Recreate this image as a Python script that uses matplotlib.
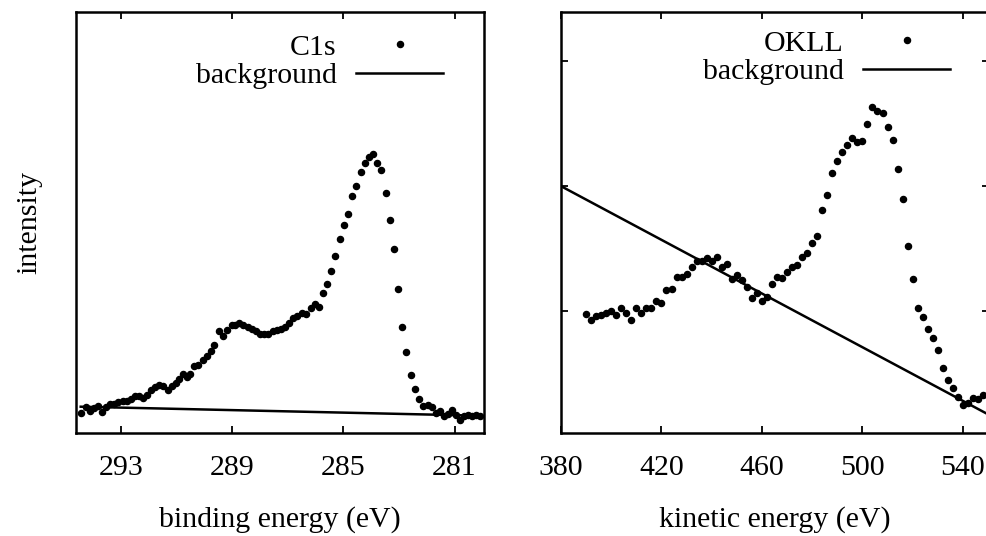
import matplotlib
matplotlib.use("Agg")
import matplotlib.pyplot as plt

# ---------------- data: C1s (binding energy, eV) ----------------
c1s_energy = [294.45, 294.26, 294.12, 293.96, 293.82, 293.68, 293.54, 293.40, 293.25, 293.10,
              292.94, 292.80, 292.65, 292.50, 292.35, 292.22, 292.08, 291.93, 291.78, 291.63,
              291.48, 291.32, 291.18, 291.03, 290.90, 290.76, 290.64, 290.52, 290.37, 290.22,
              290.06, 289.92, 289.77, 289.64, 289.46, 289.34, 289.18, 289.02, 288.90, 288.74,
              288.60, 288.44, 288.30, 288.14, 288.00, 287.84, 287.70, 287.54, 287.40, 287.26,
              287.10, 286.94, 286.80, 286.66, 286.50, 286.35, 286.18, 286.02, 285.88, 285.72,
              285.58, 285.43, 285.29, 285.13, 284.98, 284.82, 284.68, 284.53, 284.38, 284.23,
              284.08, 283.94, 283.78, 283.64, 283.48, 283.34, 283.18, 283.04, 282.88, 282.74,
              282.58, 282.44, 282.29, 282.12, 281.97, 281.82, 281.68, 281.52, 281.38, 281.25,
              281.09, 280.95, 280.81, 280.66, 280.52, 280.36, 280.23, 280.09]
c1s_intensity = [6.0, 7.8, 6.5, 7.5, 8.0, 6.2, 7.8, 8.7, 8.7, 9.2,
                 9.5, 9.5, 10.2, 11.2, 11.0, 10.5, 11.5, 13.0, 13.8, 14.5,
                 14.2, 13.0, 14.0, 15.0, 16.2, 17.8, 16.8, 17.8, 20.2, 20.5,
                 22.0, 23.2, 24.5, 26.5, 30.5, 29.0, 31.0, 32.5, 32.5, 33.2,
                 32.5, 31.8, 31.2, 30.7, 29.7, 29.8, 29.7, 30.5, 30.8, 31.2,
                 32.0, 33.2, 34.7, 35.2, 36.2, 35.7, 37.5, 38.8, 38.0, 42.2,
                 44.7, 48.8, 53.1, 58.2, 62.5, 65.9, 71.2, 74.3, 78.3, 81.2,
                 83.0, 83.9, 81.0, 79.0, 72.0, 64.0, 55.4, 43.2, 31.9, 24.3,
                 17.5, 13.2, 10.2, 8.0, 8.3, 7.7, 6.0, 6.5, 5.0, 5.7,
                 6.8, 5.5, 3.8, 5.0, 5.3, 5.0, 5.5, 5.0]
c1s_bg_energy = [294.45, 280.09]
c1s_bg_intensity = [7.9, 5.2]
c1s_ticks = [293, 289, 285, 281]

# ---------------- data: OKLL (kinetic energy, eV) ----------------
okll_energy = [390, 392, 394, 396, 398, 400, 402, 404, 406, 408,
               410, 412, 414, 416, 418, 420, 422, 424, 426, 428,
               430, 432, 434, 436, 438, 440, 442, 444, 446, 448,
               450, 452, 454, 456, 458, 460, 462, 464, 466, 468,
               470, 472, 474, 476, 478, 480, 482, 484, 486, 488,
               490, 492, 494, 496, 498, 500, 502, 504, 506, 508,
               510, 512, 514, 516, 518, 520, 522, 524, 526, 528,
               530, 532, 534, 536, 538, 540, 542, 544, 546, 548]
okll_intensity = [9.74, 9.28, 9.55, 9.66, 9.81, 10.00, 9.68, 10.21, 9.81, 9.26,
                  10.19, 9.81, 10.26, 10.26, 10.79, 10.66, 11.67, 11.77, 12.73, 12.73,
                  12.99, 13.50, 13.97, 13.97, 14.24, 14.03, 14.29, 13.52, 13.79, 12.52,
                  12.86, 12.44, 11.93, 11.01, 11.46, 10.79, 11.11, 12.12, 12.73, 12.65,
                  13.13, 13.50, 13.71, 14.29, 14.64, 15.43, 16.04, 18.08, 19.32, 21.07,
                  22.00, 22.72, 23.32, 23.83, 23.51, 23.59, 25.02, 26.37, 26.03, 25.89,
                  24.78, 23.72, 21.39, 19.01, 15.17, 12.52, 10.21, 9.52, 8.54, 7.83,
                  6.87, 5.44, 4.49, 3.77, 3.06, 2.45, 2.58, 2.98, 2.93, 3.25]
okll_bg_energy = [380, 550]
okll_bg_intensity = [20.0, 1.7]
okll_xticks = [380, 420, 460, 500, 540]
okll_yticks = [10, 20, 30]

# ---------------- style ----------------
plt.rcParams['font.family'] = ['Liberation Serif', 'DejaVu Serif']
FS = 21.5
W, H = 986, 536
fig = plt.figure(figsize=(W / 100, H / 100), dpi=100)

def px_axes(x0, x1, y0, y1):
    return fig.add_axes([x0 / W, 1 - y1 / H, (x1 - x0) / W, (y1 - y0) / H])

ax1 = px_axes(76, 484, 12, 433)
ax2 = px_axes(561, 989, 12, 433)

for ax in (ax1, ax2):
    for s in ax.spines.values():
        s.set_linewidth(1.8)
    ax.tick_params(direction='in', length=5, width=1.3, labelsize=FS, pad=16,
                   top=True, right=True)

# left panel
ax1.plot(c1s_energy, c1s_intensity, linestyle='none', marker='o', markersize=4.4,
         color='black', label='C1s')
ax1.plot(c1s_bg_energy, c1s_bg_intensity, color='black', linewidth=1.8, label='background')
ax1.set_xlim(294.62, 279.94)
ax1.set_ylim(0, 126.5)
ax1.set_xticks(c1s_ticks)
ax1.set_xticklabels([str(t) for t in c1s_ticks])
ax1.set_yticks([])
ax1.set_xlabel('binding energy (eV)', fontsize=FS, labelpad=18)
ax1.set_ylabel('intensity', fontsize=FS, labelpad=24)

# right panel
ax2.plot(okll_energy, okll_intensity, linestyle='none', marker='o', markersize=4.4,
         color='black', label='OKLL')
ax2.plot(okll_bg_energy, okll_bg_intensity, color='black', linewidth=1.8, label='background')
ax2.set_xlim(380, 550.4)
ax2.set_ylim(0.2, 33.97)
ax2.set_xticks(okll_xticks)
ax2.set_xticklabels([str(t) for t in okll_xticks])
ax2.set_yticks(okll_yticks)
ax2.tick_params(axis='y', labelleft=False, labelright=False)
ax2.set_xlabel('kinetic energy (eV)', fontsize=FS, labelpad=18)

legend_kw = dict(loc='upper right', frameon=False, markerfirst=False, fontsize=FS,
                 handlelength=2.9, handletextpad=0.67, labelspacing=0.05,
                 borderaxespad=0.0, numpoints=1, borderpad=0.3)
ax1.legend(bbox_to_anchor=(1 - 32 / 408, 1 - 13 / 421), **legend_kw)
ax2.legend(bbox_to_anchor=(1 - 30 / 428, 1 - 9 / 421), **legend_kw)

fig.savefig('out.png', dpi=100)
